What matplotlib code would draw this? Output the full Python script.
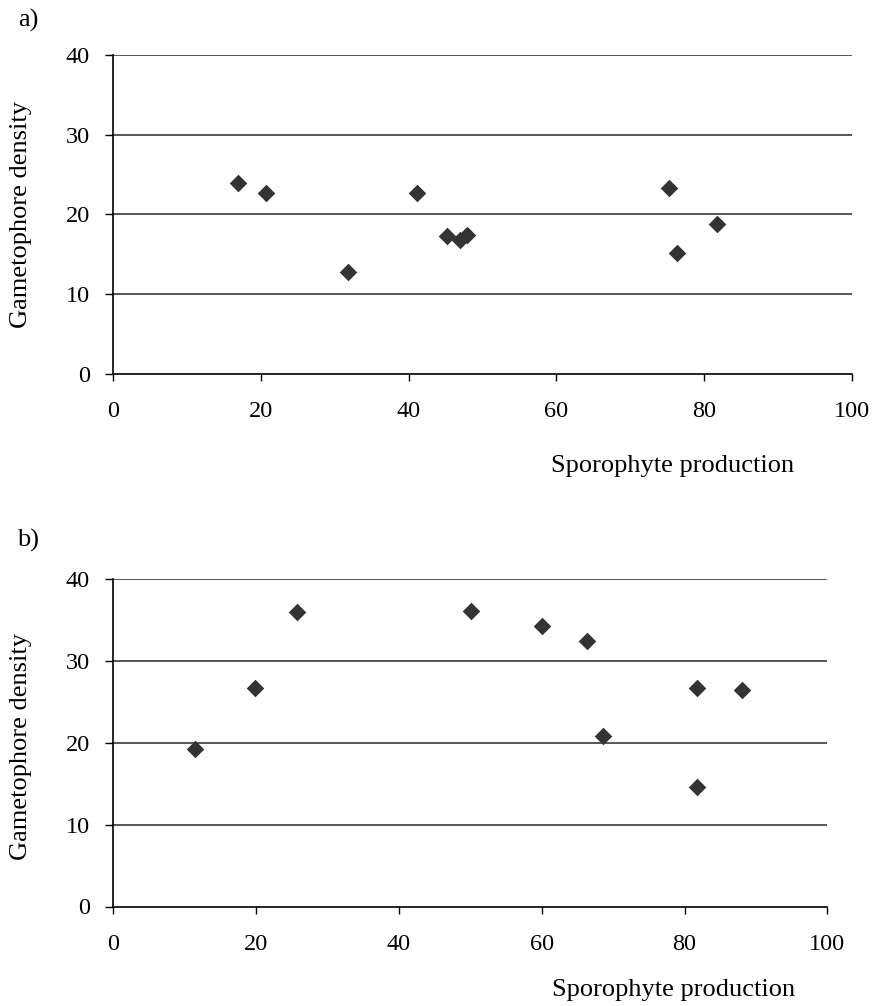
import matplotlib
matplotlib.use('Agg')
import matplotlib.pyplot as plt

# Panel a) data
a_x = [16.9, 20.7, 31.8, 41.1, 45.2, 46.9, 47.9, 75.2, 76.3, 81.8]
a_y = [23.9, 22.7, 12.8, 22.7, 17.3, 16.8, 17.4, 23.3, 15.1, 18.8]

# Panel b) data
b_x = [11.4, 19.9, 25.7, 50.1, 60.1, 66.3, 68.6, 81.8, 81.8, 88.1]
b_y = [19.2, 26.7, 36.0, 36.1, 34.3, 32.5, 20.8, 26.7, 14.6, 26.5]

x_ticks = [0, 20, 40, 60, 80, 100]
y_ticks = [0, 10, 20, 30, 40]

plt.rcParams['font.family'] = ['Liberation Serif', 'DejaVu Serif']

W, H = 875, 1006
fig = plt.figure(figsize=(W / 100, H / 100), dpi=100)


def px(x0, y0, x1, y1):
    # pixel box -> figure fraction
    return [x0 / W, 1 - y1 / H, (x1 - x0) / W, (y1 - y0) / H]


def draw_panel(ax, xs, ys):
    ax.set_xlim(0, 100)
    ax.set_ylim(0, 40)
    for v in y_ticks[1:]:
        ax.axhline(v, color='#3a3a3a', lw=1.2, zorder=1)
    ax.scatter(xs, ys, marker='D', s=80, color='#333333', zorder=3, linewidths=0)
    for s in ['top', 'right']:
        ax.spines[s].set_visible(False)
    for s in ['left', 'bottom']:
        ax.spines[s].set_color('black')
        ax.spines[s].set_linewidth(1.2)
    ax.set_xticks(x_ticks)
    ax.set_yticks(y_ticks)
    ax.tick_params(axis='x', direction='out', length=5, width=1, pad=15, labelsize=17.5)
    ax.tick_params(axis='y', direction='out', length=6, width=1, pad=11, labelsize=17.5)


ax1 = fig.add_axes(px(113.3, 55, 851.7, 373.5))
draw_panel(ax1, a_x, a_y)

ax2 = fig.add_axes(px(113.3, 579.3, 827.3, 906.5))
draw_panel(ax2, b_x, b_y)

# labels
fig.text(28 / W, 1 - 20 / H, 'a)', fontsize=19, ha='center', va='center')
fig.text(28 / W, 1 - 540 / H, 'b)', fontsize=19, ha='center', va='center')

fig.text(21 / W, 1 - 215 / H, 'Gametophore density', fontsize=19, rotation=90,
         ha='center', va='center')
fig.text(21 / W, 1 - 747 / H, 'Gametophore density', fontsize=19, rotation=90,
         ha='center', va='center')

fig.text(673 / W, 1 - 466 / H, 'Sporophyte production', fontsize=19,
         ha='center', va='center')
fig.text(674 / W, 1 - 990 / H, 'Sporophyte production', fontsize=19,
         ha='center', va='center')

fig.savefig('out.png', dpi=100)
